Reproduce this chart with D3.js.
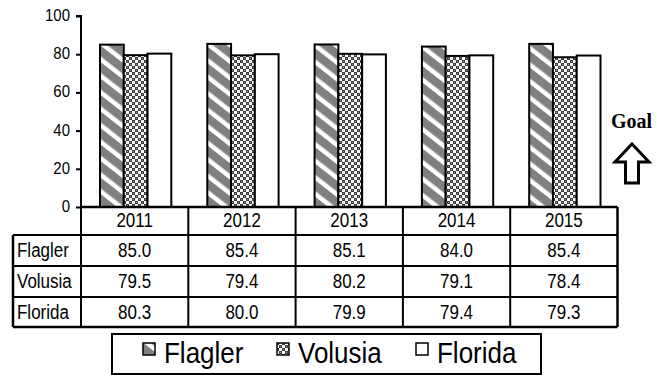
<!DOCTYPE html>
<html>
<head>
<meta charset="utf-8">
<script src="https://cdn.jsdelivr.net/npm/d3@7"></script>
<style>
  html, body { margin: 0; padding: 0; background: #fff; }
  svg { display: block; }
  text { font-family: "Liberation Sans", Arial, sans-serif; fill: #000; }
</style>
</head>
<body>
<div id="chart"></div>
<script>
// Graduation-rate style comparison, 2011–2015
const years = ["2011", "2012", "2013", "2014", "2015"];
const seriesNames = ["Flagler", "Volusia", "Florida"];
const flagler = [85.0, 85.4, 85.1, 84.0, 85.4];
const volusia = [79.5, 79.4, 80.2, 79.1, 78.4];
const florida = [80.3, 80.0, 79.9, 79.4, 79.3];
const yTicks = [0, 20, 40, 60, 80, 100];

const seriesValues = [flagler, volusia, florida];

const W = 663, H = 375;
const plotLeft = 81, plotRight = 617.5, plotTop = 16, plotBase = 207;
const tableLeft = 13;
const headerBottom = 235;
const rowEdges = [235, 266, 297, 327];
const stretch = 1.15; // text is drawn slightly tall

const svg = d3.select("#chart").append("svg")
  .attr("width", W).attr("height", H);

const defs = svg.append("defs");

// Diagonal stripe fill (gray with white bands running down to the right)
const stripe = defs.append("pattern")
  .attr("id", "pat-flagler")
  .attr("patternUnits", "userSpaceOnUse")
  .attr("width", 13).attr("height", 13)
  .attr("patternTransform", "rotate(-52)");
stripe.append("rect").attr("width", 13).attr("height", 13).attr("fill", "#808080");
stripe.append("rect").attr("x", 0).attr("width", 4.5).attr("height", 13).attr("fill", "#ffffff");

// Small checkerboard fill
const checker = defs.append("pattern")
  .attr("id", "pat-volusia")
  .attr("patternUnits", "userSpaceOnUse")
  .attr("width", 6).attr("height", 6);
checker.append("rect").attr("width", 6).attr("height", 6).attr("fill", "#ffffff");
checker.append("rect").attr("x", 0).attr("y", 0).attr("width", 3).attr("height", 3).attr("fill", "#3c3c3c");
checker.append("rect").attr("x", 3).attr("y", 3).attr("width", 3).attr("height", 3).attr("fill", "#3c3c3c");
checker.append("rect").attr("x", 1).attr("y", 1).attr("width", 1).attr("height", 1).attr("fill", "#9a9a9a");
checker.append("rect").attr("x", 4).attr("y", 4).attr("width", 1).attr("height", 1).attr("fill", "#9a9a9a");

const fills = ["url(#pat-flagler)", "url(#pat-volusia)", "#ffffff"];

// Scales
const x = d3.scaleBand().domain(years).range([plotLeft, plotRight]).paddingInner(0).paddingOuter(0);
const groupPad = 19;
const xs = d3.scaleBand().domain(seriesNames)
  .range([groupPad, x.bandwidth() - groupPad + 2]);
const y = d3.scaleLinear().domain([0, 100]).range([plotBase, plotTop]);

// Stretched text helper
function label(g, tx, ty, str, size, anchor) {
  return g.append("text")
    .attr("transform", `translate(${tx},${ty}) scale(1,${stretch})`)
    .attr("font-size", size)
    .attr("text-anchor", anchor || "middle")
    .text(str);
}

// Bars
const bars = svg.append("g");
years.forEach((yr, i) => {
  seriesNames.forEach((s, j) => {
    const v = seriesValues[j][i];
    bars.append("rect")
      .attr("x", x(yr) + xs(s))
      .attr("y", y(v))
      .attr("width", xs.bandwidth())
      .attr("height", plotBase - y(v))
      .attr("fill", fills[j])
      .attr("stroke", "#000")
      .attr("stroke-width", 2);
  });
});

// Y axis
const yAxis = d3.axisLeft(y).tickValues(yTicks).tickSize(5).tickPadding(7);
const ag = svg.append("g").attr("transform", `translate(${plotLeft},0)`).call(yAxis);
ag.select(".domain").attr("stroke", "#000").attr("stroke-width", 2)
  .attr("d", `M-5,${plotTop}H0V${plotBase}`);
ag.selectAll(".tick line").attr("stroke", "#000").attr("stroke-width", 2);
ag.selectAll(".tick text").remove();
yTicks.forEach(t => label(ag, -11, y(t) + 5, String(t), 15, "end"));

// Data table below the axis
const tbl = svg.append("g");
const lineW = 2;
tbl.append("line").attr("x1", plotLeft).attr("x2", plotRight).attr("y1", plotBase).attr("y2", plotBase)
  .attr("stroke", "#000").attr("stroke-width", 2.5);
rowEdges.forEach((ry, k) => {
  tbl.append("line").attr("x1", tableLeft).attr("x2", plotRight).attr("y1", ry).attr("y2", ry)
    .attr("stroke", "#000").attr("stroke-width", k === rowEdges.length - 1 ? 2.5 : lineW);
});
tbl.append("line").attr("x1", tableLeft).attr("x2", tableLeft)
  .attr("y1", headerBottom).attr("y2", rowEdges[rowEdges.length - 1])
  .attr("stroke", "#000").attr("stroke-width", 2.5);
years.forEach((yr) => {
  tbl.append("line").attr("x1", x(yr)).attr("x2", x(yr))
    .attr("y1", plotBase).attr("y2", rowEdges[rowEdges.length - 1])
    .attr("stroke", "#000").attr("stroke-width", lineW);
});
tbl.append("line").attr("x1", plotRight).attr("x2", plotRight)
  .attr("y1", plotBase).attr("y2", rowEdges[rowEdges.length - 1])
  .attr("stroke", "#000").attr("stroke-width", 2.5);

years.forEach(yr => label(tbl, x(yr) + x.bandwidth() / 2, 227, yr, 17));
seriesNames.forEach((s, j) => {
  const cy = (rowEdges[j] + rowEdges[j + 1]) / 2 + 6.5;
  label(tbl, tableLeft + 4, cy, s, 17, "start");
  years.forEach((yr, i) => {
    label(tbl, x(yr) + x.bandwidth() / 2, cy, seriesValues[j][i].toFixed(1), 17);
  });
});

// Goal marker
svg.append("text")
  .attr("x", 631.5).attr("y", 128)
  .attr("text-anchor", "middle")
  .style("font-family", "'Liberation Serif', 'Times New Roman', serif")
  .attr("font-weight", "bold")
  .attr("font-size", 20)
  .text("Goal");
svg.append("path")
  .attr("d", "M632,144 L649,162 L638.5,162 L638.5,183 L625.5,183 L625.5,162 L615,162 Z")
  .attr("fill", "#fff").attr("stroke", "#000").attr("stroke-width", 3)
  .attr("stroke-linejoin", "miter");

// Legend
const lg = svg.append("g");
lg.append("rect").attr("x", 112).attr("y", 334).attr("width", 429).attr("height", 40)
  .attr("fill", "#fff").attr("stroke", "#000").attr("stroke-width", 2);
const legendX = [143, 277, 416];
seriesNames.forEach((s, j) => {
  lg.append("rect").attr("x", legendX[j]).attr("y", 343).attr("width", 12).attr("height", 12)
    .attr("fill", fills[j]).attr("stroke", "#000").attr("stroke-width", 1.5);
  label(lg, legendX[j] + 21, 363, s, 26, "start");
});
</script>
</body>
</html>
